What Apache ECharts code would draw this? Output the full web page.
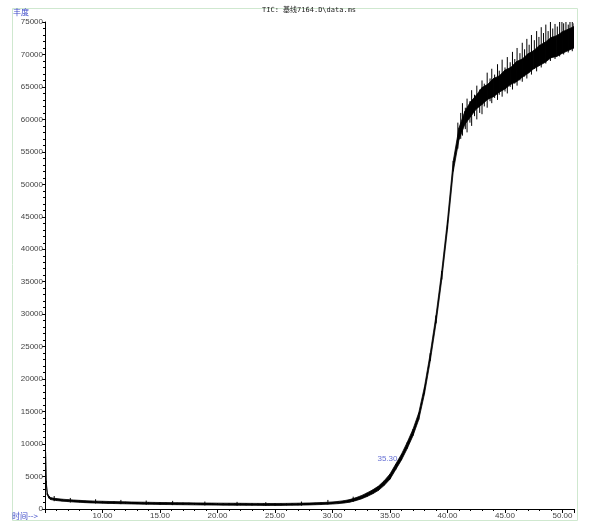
<!DOCTYPE html>
<html><head><meta charset="utf-8">
<script src="https://cdn.jsdelivr.net/npm/echarts@6/dist/echarts.min.js"></script>
<style>html,body{margin:0;padding:0;background:#fff}#c{width:600px;height:531px}</style>
</head><body><div id="c"></div>
<script>
// retention time (min)
const times = [5.05,5.1,5.2,5.35,5.5,5.75,6,6.5,7,7.5,8,8.5,9,9.5,10,10.5,11,11.5,12,12.5,13,13.5,14,14.5,15,15.5,16,16.5,17,17.5,18,18.5,19,19.5,20,20.5,21,21.5,22,22.5,23,23.5,24,24.5,25,25.5,26,26.5,27,27.5,28,28.5,29,29.5,30,30.5,31,31.5,32,32.5,33,33.5,34,34.5,35,35.5,36,36.5,37,37.5,38,38.5,39,39.5,40,40.5,41,41.5,42,42.5,43,43.5,44,44.5,45,45.5,46,46.5,47,47.5,48,48.5,49,49.5,50,50.5,51];
// abundance, centre of the noisy trace
const abundance = [8800,4200,2300,1800,1600,1520,1450,1360,1290,1230,1180,1130,1090,1060,1040,1010,990,970,950,930,910,900,880,865,850,840,830,820,810,800,790,780,770,760,750,745,740,735,730,720,715,710,705,700,700,705,715,730,745,760,780,810,840,880,930,1000,1100,1250,1500,1800,2200,2650,3200,4000,5000,6500,8000,9800,11800,14300,18300,23400,29200,36000,43800,52800,57800,60200,61500,62600,63500,64200,64800,65400,66000,66600,67200,67800,68500,69100,69700,70300,70800,71200,71600,72100,72500];
// noise below the centre
const noiseLow = [0,150,150,150,150,150,150,150,150,150,150,150,150,150,150,150,150,150,150,150,150,150,150,150,150,150,150,150,150,150,150,150,150,150,150,150,150,150,150,150,150,150,150,150,150,150,150,150,150,150,150,150,150,150,160,170,180,200,220,250,280,300,330,360,400,420,450,480,500,520,550,580,600,650,700,800,900,1000,1100,1000,1200,1100,1300,1200,1300,1200,1400,1300,1400,1300,1400,1500,1300,1500,1400,1500,1500];
// noise above the centre
const noiseHigh = [0,150,150,150,150,150,150,150,150,150,150,150,150,150,150,150,150,150,150,150,150,150,150,150,150,150,150,150,150,150,150,150,150,150,150,150,150,150,150,150,150,150,150,150,150,150,150,150,150,150,150,150,150,150,160,170,180,200,220,250,280,300,330,360,400,420,450,480,500,520,550,580,600,650,700,800,900,1000,1200,1100,1400,1200,1500,1300,1600,1400,1700,1500,1600,1500,1700,1600,1800,1700,1900,1800,1800];
// visible noise spikes: time, bottom and top of each spike
const spikeTimes = [5.8,7.2,9.4,11.6,13.8,16.1,18.9,21.7,24.2,27.3,29.6,31.8,
  40.9,41.15,41.3,41.55,41.7,41.95,42.1,42.35,42.55,42.8,43.0,43.2,43.45,43.7,43.85,44.1,44.35,44.5,44.75,45.0,45.2,45.45,45.65,45.85,46.05,46.3,46.5,46.7,46.9,47.1,47.3,47.55,47.75,47.95,48.15,48.35,48.55,48.75,48.95,49.15,49.35,49.55,49.75,49.95,50.1,50.3,50.5,50.65,50.85,51.0];
const spikeLow = [1200,1000,850,750,650,600,550,500,480,520,700,1100,
  55500,57000,57500,58500,58000,59500,59000,60500,60000,61000,60800,62000,61800,62800,62500,63300,63000,63800,63500,64300,64000,65000,64600,65500,65200,66000,65800,66600,66300,67200,66900,67800,67400,68400,68000,69000,68600,69400,69000,69800,69300,70000,69700,70300,70000,70600,70300,70800,70500,71000];
const spikeHigh = [2000,1700,1500,1400,1300,1250,1150,1100,1050,1150,1400,1900,
  59500,61000,62500,61800,63200,62800,64500,63800,65200,64600,66000,65500,67200,66300,67800,66900,68500,67500,69200,68000,69600,68800,70400,69300,71000,70200,71800,70800,72400,71500,73000,72200,73600,72700,74200,73300,74600,73600,75000,74000,74700,74300,75300,76000,74800,75400,74600,75800,75000,74800];
const peakLabel = {time: 35.3, value: 7800, text: '35.30'};
const xTickLabels = ['10.00','15.00','20.00','25.00','30.00','35.00','40.00','45.00','50.00'];

const bandData = times.map((t,i)=>[t, abundance[i]-noiseLow[i], abundance[i]+noiseHigh[i]]);
const spikeData = spikeTimes.map((t,i)=>[t, spikeLow[i], spikeHigh[i]]);
const blue = '#3b48c8';
const chart = echarts.init(document.getElementById('c'));
chart.setOption({
  animation: false,
  backgroundColor: '#fff',
  graphic: [
    {type:'rect', shape:{x:12.5,y:8.5,width:565,height:512}, style:{fill:'none', stroke:'#cfe8cf', lineWidth:1}, silent:true},
    {type:'text', left:13, top:8, style:{text:'丰度', fill:blue, font:'8px "Noto Sans CJK SC"'}},
    {type:'text', left:12, top:512, style:{text:'时间-->', fill:blue, font:'8px "Noto Sans CJK SC"'}},
    {type:'text', left:262, top:7, style:{text:'TIC: 基线7164.D\\data.ms', fill:'#222', font:'7px "DejaVu Sans Mono", "Noto Sans CJK SC"'}}
  ],
  grid: {left:45, right:26, top:22, bottom:22, containLabel:false},
  xAxis: {
    type:'value', min:5, max:51, interval:5, z:5,
    axisLine:{show:true, onZero:false, lineStyle:{color:'#000', width:1}},
    axisTick:{show:true, length:4, lineStyle:{color:'#000'}},
    minorTick:{show:true, splitNumber:5, length:2, lineStyle:{color:'#000'}},
    splitLine:{show:false},
    axisLabel:{showMinLabel:false, showMaxLabel:false, fontSize:8, fontFamily:'Liberation Sans', color:'#444', margin:3,
      formatter:(v)=>{const s=v.toFixed(2); return xTickLabels.indexOf(s)>=0?s:'';}}
  },
  yAxis: {
    type:'value', min:0, max:75000, interval:5000, z:5,
    axisLine:{show:true, lineStyle:{color:'#000', width:1}},
    axisTick:{show:true, length:3, lineStyle:{color:'#000'}},
    minorTick:{show:true, splitNumber:5, length:2, lineStyle:{color:'#000'}},
    splitLine:{show:false},
    axisLabel:{fontSize:8, fontFamily:'Liberation Sans', color:'#444', margin:2, formatter:(v)=>String(v)}
  },
  series: [
    {type:'custom', data:bandData, clip:true,
     encode:{x:0, y:[1,2]},
     renderItem:(params, api)=>{
       const i = params.dataIndex;
       if (i >= bandData.length-1) return null;
       const a = bandData[i], b = bandData[i+1];
       const pts = [api.coord([a[0],a[1]]), api.coord([b[0],b[1]]), api.coord([b[0],b[2]]), api.coord([a[0],a[2]])];
       return {type:'polygon', shape:{points:pts}, style:{fill:'#000', stroke:'#000', lineWidth:0.8}};
     }},
    {type:'custom', data:spikeData, clip:true,
     encode:{x:0, y:[1,2]},
     renderItem:(params, api)=>{
       const p1 = api.coord([api.value(0), api.value(1)]);
       const p2 = api.coord([api.value(0), api.value(2)]);
       return {type:'line', shape:{x1:p1[0], y1:p1[1], x2:p2[0], y2:p2[1]}, style:{stroke:'#000', lineWidth:1}};
     }},
    {type:'scatter', data:[[peakLabel.time, peakLabel.value]], symbolSize:0, silent:true,
     label:{show:true, formatter:peakLabel.text, color:blue, fontSize:8, fontFamily:'Liberation Sans', position:'left', distance:-4}}
  ]
});
</script></body></html>
